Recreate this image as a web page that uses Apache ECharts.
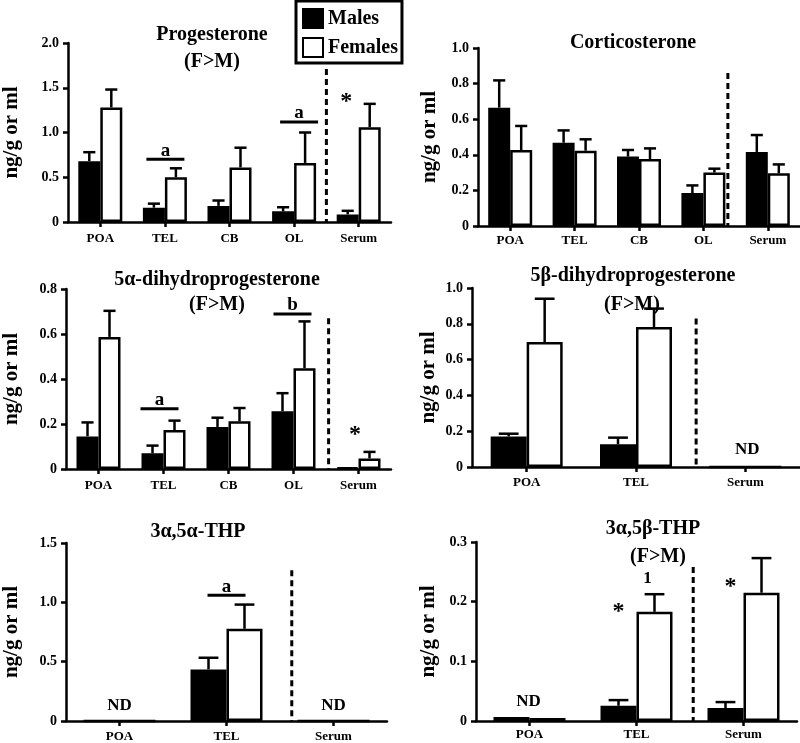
<!DOCTYPE html>
<html><head><meta charset="utf-8">
<script src="https://cdn.jsdelivr.net/npm/echarts@6/dist/echarts.min.js"></script>
<style>html,body{margin:0;padding:0;background:#fff}#c{width:800px;height:743px}</style>
</head><body><div id="c"></div><script>
// ---------- DATA ----------
const progCats = ['POA', 'TEL', 'CB', 'OL', 'Serum'];
const progMales = [0.68, 0.16, 0.18, 0.12, 0.085];
const progMalesSem = [0.10, 0.045, 0.06, 0.045, 0.04];
const progFemales = [1.28, 0.50, 0.61, 0.66, 1.06];
const progFemalesSem = [0.20, 0.10, 0.22, 0.34, 0.26];

const cortCats = ['POA', 'TEL', 'CB', 'OL', 'Serum'];
const cortMales = [0.665, 0.468, 0.39, 0.185, 0.416];
const cortMalesSem = [0.153, 0.069, 0.037, 0.043, 0.095];
const cortFemales = [0.427, 0.423, 0.376, 0.30, 0.296];
const cortFemalesSem = [0.135, 0.064, 0.06, 0.022, 0.05];

const dhp5aCats = ['POA', 'TEL', 'CB', 'OL', 'Serum'];
const dhp5aMales = [0.145, 0.07, 0.187, 0.257, 0.007];
const dhp5aMalesSem = [0.062, 0.034, 0.041, 0.08, null];
const dhp5aFemales = [0.587, 0.173, 0.212, 0.448, 0.047];
const dhp5aFemalesSem = [0.116, 0.042, 0.059, 0.208, 0.029];

const dhp5bCats = ['POA', 'TEL', 'Serum'];
const dhp5bMales = [0.171, 0.127, 0];
const dhp5bMalesSem = [0.015, 0.037, null];
const dhp5bFemales = [0.698, 0.782, 0];
const dhp5bFemalesSem = [0.242, 0.103, null];

const thp5aCats = ['POA', 'TEL', 'Serum'];
const thp5aMales = [0, 0.435, 0];
const thp5aMalesSem = [null, 0.098, null];
const thp5aFemales = [0, 0.777, 0];
const thp5aFemalesSem = [null, 0.204, null];

const thp5bCats = ['POA', 'TEL', 'Serum'];
const thp5bMales = [0.0067, 0.0256, 0.0217];
const thp5bMalesSem = [null, 0.0094, 0.010];
const thp5bFemales = [0.005, 0.183, 0.215];
const thp5bFemalesSem = [null, 0.0295, 0.058];

// annotations: category index, value (y), text, kind
const progNotes = [
  { cat: 1, value: 0.70, text: 'a', kind: 'bar' },
  { cat: 3, value: 1.117, text: 'a', kind: 'bar' },
  { cat: 4, value: 1.40, text: '*', kind: 'star' }
];
const cortNotes = [];
const dhp5aNotes = [
  { cat: 1, value: 0.268, text: 'a', kind: 'bar' },
  { cat: 3, value: 0.689, text: 'b', kind: 'bar' },
  { cat: 4, value: 0.175, text: '*', kind: 'star' }
];
const dhp5bNotes = [
  { cat: 2, value: 0.095, text: 'ND', kind: 'text' }
];
const thp5aNotes = [
  { cat: 0, value: 0.126, text: 'ND', kind: 'text' },
  { cat: 1, value: 1.06, text: 'a', kind: 'bar' },
  { cat: 2, value: 0.126, text: 'ND', kind: 'text' }
];
const thp5bNotes = [
  { cat: 0, value: 0.032, text: 'ND', kind: 'text' },
  { cat: 1, value: 0.192, text: '*', kind: 'star' },
  { cat: 1, value: 0.239, text: '1', kind: 'text' },
  { cat: 2, value: 0.234, text: '*', kind: 'star' }
];

const yName = 'ng/g or ml';

// ---------- LAYOUT / STYLE ----------
const LW = 2.5;
const FONT = '"Liberation Serif", "Times New Roman", serif';

const panels = [
  { cats: progCats, m: progMales, ms: progMalesSem, f: progFemales, fs: progFemalesSem,
    notes: progNotes, noteDx: [0.5, 5, -12.5],
    grid: { left: 66, top: 43, width: 325, height: 179 }, max: 2.0, interval: 0.5, bw: 22,
    nameGap: 46, xMargin: 10, divider: { after: 3, frac: 0.5, top: 1.71 } },
  { cats: cortCats, m: cortMales, ms: cortMalesSem, f: cortFemales, fs: cortFemalesSem,
    notes: cortNotes, noteDx: [],
    grid: { left: 478, top: 48, width: 322, height: 178 }, max: 1.0, interval: 0.2, bw: 22,
    nameGap: 38, xMargin: 8, divider: { after: 3, frac: 0.38, top: 0.86 } },
  { cats: dhp5aCats, m: dhp5aMales, ms: dhp5aMalesSem, f: dhp5aFemales, fs: dhp5aFemalesSem,
    notes: dhp5aNotes, noteDx: [-4, -1, -3.5],
    grid: { left: 66, top: 289, width: 325, height: 180 }, max: 0.8, interval: 0.2, bw: 22,
    nameGap: 44, xMargin: 10, divider: { after: 3, frac: 0.54, top: 0.67 } },
  { cats: dhp5bCats, m: dhp5bMales, ms: dhp5bMalesSem, f: dhp5bFemales, fs: dhp5bFemalesSem,
    notes: dhp5bNotes, noteDx: [2],
    grid: { left: 472, top: 288, width: 328, height: 179 }, max: 1.0, interval: 0.2, bw: 36,
    nameGap: 33, xMargin: 9, divider: { after: 1, frac: 0.55, top: 0.83 } },
  { cats: thp5aCats, m: thp5aMales, ms: thp5aMalesSem, f: thp5aFemales, fs: thp5aFemalesSem,
    notes: thp5aNotes, noteDx: [0, 0, 0],
    grid: { left: 66, top: 543, width: 321, height: 179 }, max: 1.5, interval: 0.5, bw: 36,
    nameGap: 44, xMargin: 9, divider: { after: 1, frac: 0.61, top: 1.27 } },
  { cats: thp5bCats, m: thp5bMales, ms: thp5bMalesSem, f: thp5bFemales, fs: thp5bFemalesSem,
    notes: thp5bNotes, noteDx: [-1, -18, 11, -13],
    grid: { left: 476, top: 542, width: 321, height: 179 }, max: 0.3, interval: 0.1, bw: 36,
    nameGap: 37, xMargin: 7, divider: { after: 1, frac: 0.53, top: 0.258 } }
];

const titles = [
  { text: 'Progesterone', x: 212, y: 35 }, { text: '(F>M)', x: 212, y: 62 },
  { text: 'Corticosterone', x: 633, y: 43 },
  { text: '5α-dihydroprogesterone', x: 217, y: 280 }, { text: '(F>M)', x: 217, y: 305 },
  { text: '5β-dihydroprogesterone', x: 633, y: 276 }, { text: '(F>M)', x: 632, y: 305 },
  { text: '3α,5α-THP', x: 198, y: 532 },
  { text: '3α,5β-THP', x: 653, y: 529 }, { text: '(F>M)', x: 658, y: 557 }
];

const axisLineStyle = { color: '#000', width: LW };
const tickLabelStyle = { color: '#000', fontFamily: FONT, fontWeight: 'bold', fontSize: 14 };
const catLabelStyle = { color: '#000', fontFamily: FONT, fontWeight: 'bold', fontSize: 13 };

const grids = [], xAxes = [], yAxes = [], series = [];

panels.forEach((p, k) => {
  grids.push(Object.assign({ containLabel: false }, p.grid));
  xAxes.push({
    gridIndex: k, type: 'category', data: p.cats,
    axisLine: { lineStyle: axisLineStyle },
    axisTick: { show: true, alignWithLabel: true, length: 5, lineStyle: axisLineStyle },
    axisLabel: Object.assign({ margin: p.xMargin, interval: 0 }, catLabelStyle),
    splitLine: { show: false }
  });
  yAxes.push({
    gridIndex: k, type: 'value', min: 0, max: p.max, interval: p.interval,
    axisLine: { show: true, lineStyle: axisLineStyle },
    axisTick: { show: true, length: 5, lineStyle: axisLineStyle },
    axisLabel: Object.assign({ margin: 9, formatter: v => (v === 0 ? '0' : v.toFixed(1)) }, tickLabelStyle),
    splitLine: { show: false },
    name: yName, nameLocation: 'middle', nameGap: p.nameGap,
    nameTextStyle: { color: '#000', fontFamily: FONT, fontWeight: 'bold', fontSize: 21 }
  });
  series.push({
    type: 'bar', name: 'Males', xAxisIndex: k, yAxisIndex: k, data: p.m,
    barWidth: p.bw, barGap: '0%',
    itemStyle: { color: '#000', borderColor: '#000', borderWidth: LW },
    emphasis: { disabled: true }
  });
  series.push({
    type: 'bar', name: 'Females', xAxisIndex: k, yAxisIndex: k, data: p.f,
    barWidth: p.bw, barGap: '0%',
    itemStyle: { color: '#fff', borderColor: '#000', borderWidth: LW },
    emphasis: { disabled: true }
  });
  // error bars (mean + SEM, upward only)
  const errData = [];
  p.m.forEach((v, i) => { if (p.ms[i] != null) errData.push([i, v, v + p.ms[i], -1]); });
  p.f.forEach((v, i) => { if (p.fs[i] != null) errData.push([i, v, v + p.fs[i], 1]); });
  const bw = p.bw;
  series.push({
    type: 'custom', name: 'err' + k, xAxisIndex: k, yAxisIndex: k, z: 5,
    data: errData, silent: true,
    renderItem: (params, api) => {
      const i = api.value(0);
      const x = api.coord([i, 0])[0] + api.value(3) * bw / 2;
      const yb = api.coord([i, api.value(1)])[1];
      const yt = api.coord([i, api.value(2)])[1];
      const cap = bw * 0.55 / 2;
      const st = { stroke: '#000', lineWidth: LW };
      return { type: 'group', children: [
        { type: 'line', shape: { x1: x, y1: yb, x2: x, y2: yt }, style: st },
        { type: 'line', shape: { x1: x - cap, y1: yt, x2: x + cap, y2: yt }, style: st }
      ] };
    }
  });
  // dashed divider between brain regions and serum
  const d = p.divider;
  series.push({
    type: 'custom', name: 'div' + k, xAxisIndex: k, yAxisIndex: k, z: 4, silent: true,
    data: [[d.after, d.top]],
    renderItem: (params, api) => {
      const x0 = api.coord([d.after, 0])[0];
      const x1 = api.coord([d.after + 1, 0])[0];
      const x = x0 + d.frac * (x1 - x0);
      const yt = api.coord([d.after, api.value(1)])[1];
      const yb = api.coord([d.after, 0])[1];
      return { type: 'line', shape: { x1: x, y1: yt, x2: x, y2: yb },
        style: { stroke: '#000', lineWidth: 3, lineDash: [6, 4] } };
    }
  });
  // annotations
  if (p.notes.length) {
    const notes = p.notes, dxs = p.noteDx;
    series.push({
      type: 'custom', name: 'note' + k, xAxisIndex: k, yAxisIndex: k, z: 6, silent: true,
      data: notes.map(n => [n.cat, n.value]),
      renderItem: (params, api) => {
        const n = notes[params.dataIndex];
        const c = api.coord([api.value(0), api.value(1)]);
        const x = c[0] + (dxs[params.dataIndex] || 0);
        const y = c[1];
        if (n.kind === 'bar') {
          return { type: 'group', children: [
            { type: 'line', shape: { x1: x - 19, y1: y, x2: x + 19, y2: y }, style: { stroke: '#000', lineWidth: 3 } },
            { type: 'text', x: x, y: y + 1, style: { text: n.text, fill: '#000', font: 'bold 19px ' + FONT, textAlign: 'center', textVerticalAlign: 'bottom' } }
          ] };
        }
        if (n.kind === 'star') {
          return { type: 'text', x: x, y: y + 5, style: { text: n.text, fill: '#000', font: 'bold 24px ' + FONT, textAlign: 'center', textVerticalAlign: 'middle' } };
        }
        return { type: 'text', x: x, y: y, style: { text: n.text, fill: '#000', font: 'bold 17px ' + FONT, textAlign: 'center', textVerticalAlign: 'middle' } };
      }
    });
  }
});

const graphic = titles.map(t => ({
  type: 'text', x: t.x, y: t.y, z: 10,
  style: { text: t.text, fill: '#000', font: 'bold 20px ' + FONT, textAlign: 'center', textVerticalAlign: 'middle' }
}));

const chart = echarts.init(document.getElementById('c'), null, { renderer: 'canvas' });
chart.setOption({
  animation: false,
  backgroundColor: '#fff',
  grid: grids, xAxis: xAxes, yAxis: yAxes, series: series,
  graphic: graphic,
  legend: {
    data: ['Males', 'Females'], orient: 'vertical', left: 296, top: 1,
    padding: [7, 4, 5, 6], itemGap: 8, itemWidth: 20, itemHeight: 19,
    borderColor: '#000', borderWidth: 3, icon: 'rect', selectedMode: false,
    itemStyle: { borderColor: '#000', borderWidth: 2 },
    textStyle: { fontFamily: FONT, fontWeight: 'bold', fontSize: 20, color: '#000' }
  }
});
</script></body></html>
